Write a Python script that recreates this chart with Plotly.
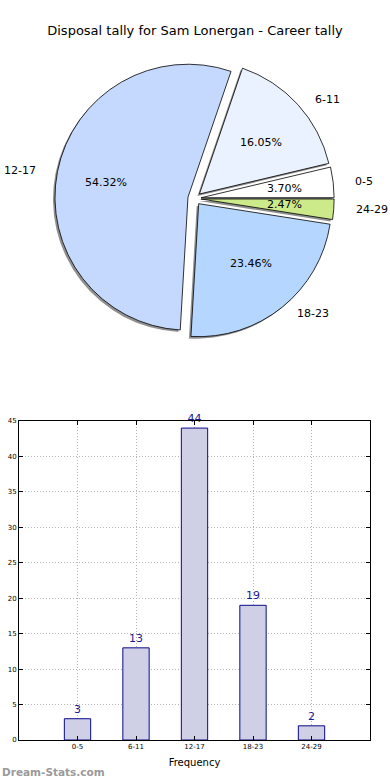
import math
import plotly.graph_objects as go

# ---- data ----
categories = ["0-5", "6-11", "12-17", "18-23", "24-29"]
frequency = [3, 13, 44, 19, 2]
y_ticks = [0, 5, 10, 15, 20, 25, 30, 35, 40, 45]

pie_colors = ["#ffffff", "#eaf1ff", "#c5d9ff", "#b5d6ff", "#cdea8a"]

W, H = 390, 780
FONT = "DejaVu Sans"


def px_dom(x0, x1, y0, y1):
    return dict(x=[x0 / W, x1 / W], y=[1 - y1 / H, 1 - y0 / H])


total = sum(frequency)
# first slice starts at 3 o'clock and runs counter-clockwise (as in the reference)
start_rot = 90 - 360.0 * frequency[0] / total

cx, cy, r, pull = 194.5, 198.5, 133, 0.05
half = r * (1 + pull)
dom = px_dom(cx - half, cx + half, cy - half, cy + half)
sdom = px_dom(cx - half - 2, cx + half - 2, cy - half + 2, cy + half + 2)

fig = go.Figure()

# shadow pie
fig.add_trace(go.Pie(
    labels=categories, values=frequency, sort=False,
    direction="counterclockwise", rotation=start_rot, pull=[pull] * 5,
    domain=sdom,
    marker=dict(colors=["rgba(70,70,70,0.6)"] * 5, line=dict(width=0)),
    textinfo="none", showlegend=False, hoverinfo="skip",
))

# main pie
fig.add_trace(go.Pie(
    labels=categories, values=frequency, sort=False,
    direction="counterclockwise", rotation=start_rot, pull=[pull] * 5,
    domain=dom,
    marker=dict(colors=pie_colors, line=dict(color="black", width=0.8)),
    textinfo="none", showlegend=False,
))

# label / percentage text placed along each slice's mid-angle (derived from the data)
annotations = []
rx, ry = 139, 128
acc = 0.0
for cat, v in zip(categories, frequency):
    mid = math.radians(360.0 * (acc + v / 2) / total)
    acc += v
    c, s = math.cos(mid), math.sin(mid)
    # percentage at 0.6 radius (+ explode)
    px_, py_ = cx + (0.6 + pull) * c * rx, cy - (0.6 + pull) * s * ry
    annotations.append(dict(text=f"{100.0 * v / total:.2f}%", xref="paper", yref="paper",
                            x=px_ / W, y=1 - py_ / H, xanchor="center", yanchor="middle",
                            showarrow=False, font=dict(family=FONT, size=11, color="black")))
    # category label at 1.1 radius (+ explode)
    lx, ly = cx + (1.1 + pull) * c * rx, cy - (1.1 + pull) * s * ry
    annotations.append(dict(text=cat, xref="paper", yref="paper",
                            x=lx / W, y=1 - ly / H,
                            xanchor="left" if c >= 0 else "right", yanchor="middle",
                            showarrow=False, font=dict(family=FONT, size=11, color="black")))

# bar chart
fig.add_trace(go.Bar(
    x=categories, y=frequency, width=0.45,
    marker=dict(color="#cfcfe6", line=dict(color="#0a0a8a", width=1)),
    text=[str(v) for v in frequency], textposition="outside",
    textfont=dict(family=FONT, size=11, color="#1a1a90"),
    constraintext="none", cliponaxis=False,
    showlegend=False, xaxis="x", yaxis="y",
))

bar_dom = px_dom(19, 370, 421, 740)

grid = dict(showgrid=True, gridcolor="#b4b4b4", griddash="1px,2px", gridwidth=1)

annotations.append(dict(text="<b>Dream-Stats.com</b>", xref="paper", yref="paper",
                        x=0, y=0, xanchor="left", yanchor="bottom", showarrow=False,
                        font=dict(family=FONT, size=10.5, color="#9a9a9a")))

fig.update_layout(
    width=W, height=H,
    margin=dict(l=0, r=0, t=0, b=0),
    paper_bgcolor="white", plot_bgcolor="white",
    font=dict(family=FONT, color="black"),
    title=dict(text="Disposal tally for Sam Lonergan - Career tally",
               x=0.5, xanchor="center", y=1 - 30 / H, yanchor="middle",
               font=dict(family=FONT, size=13, color="black")),
    xaxis=dict(domain=bar_dom["x"], anchor="y", type="category", automargin=False,
               range=[-1, 5], showline=True, linecolor="black", linewidth=1,
               mirror="allticks", ticks="inside", ticklen=4, tickcolor="black",
               tickfont=dict(family=FONT, size=7),
               title=dict(text="Frequency", font=dict(family=FONT, size=10), standoff=8),
               zeroline=False, **grid),
    yaxis=dict(domain=bar_dom["y"], anchor="x", range=[0, 45], automargin=False,
               tickvals=y_ticks, showline=True, linecolor="black", linewidth=1,
               mirror="allticks", ticks="inside", ticklen=4, tickcolor="black",
               tickfont=dict(family=FONT, size=7), zeroline=False, **grid),
    annotations=annotations,
)

fig.write_html("out.html", config={"displayModeBar": False},
               post_script="document.body.style.margin='0';document.body.style.overflow='hidden';")
